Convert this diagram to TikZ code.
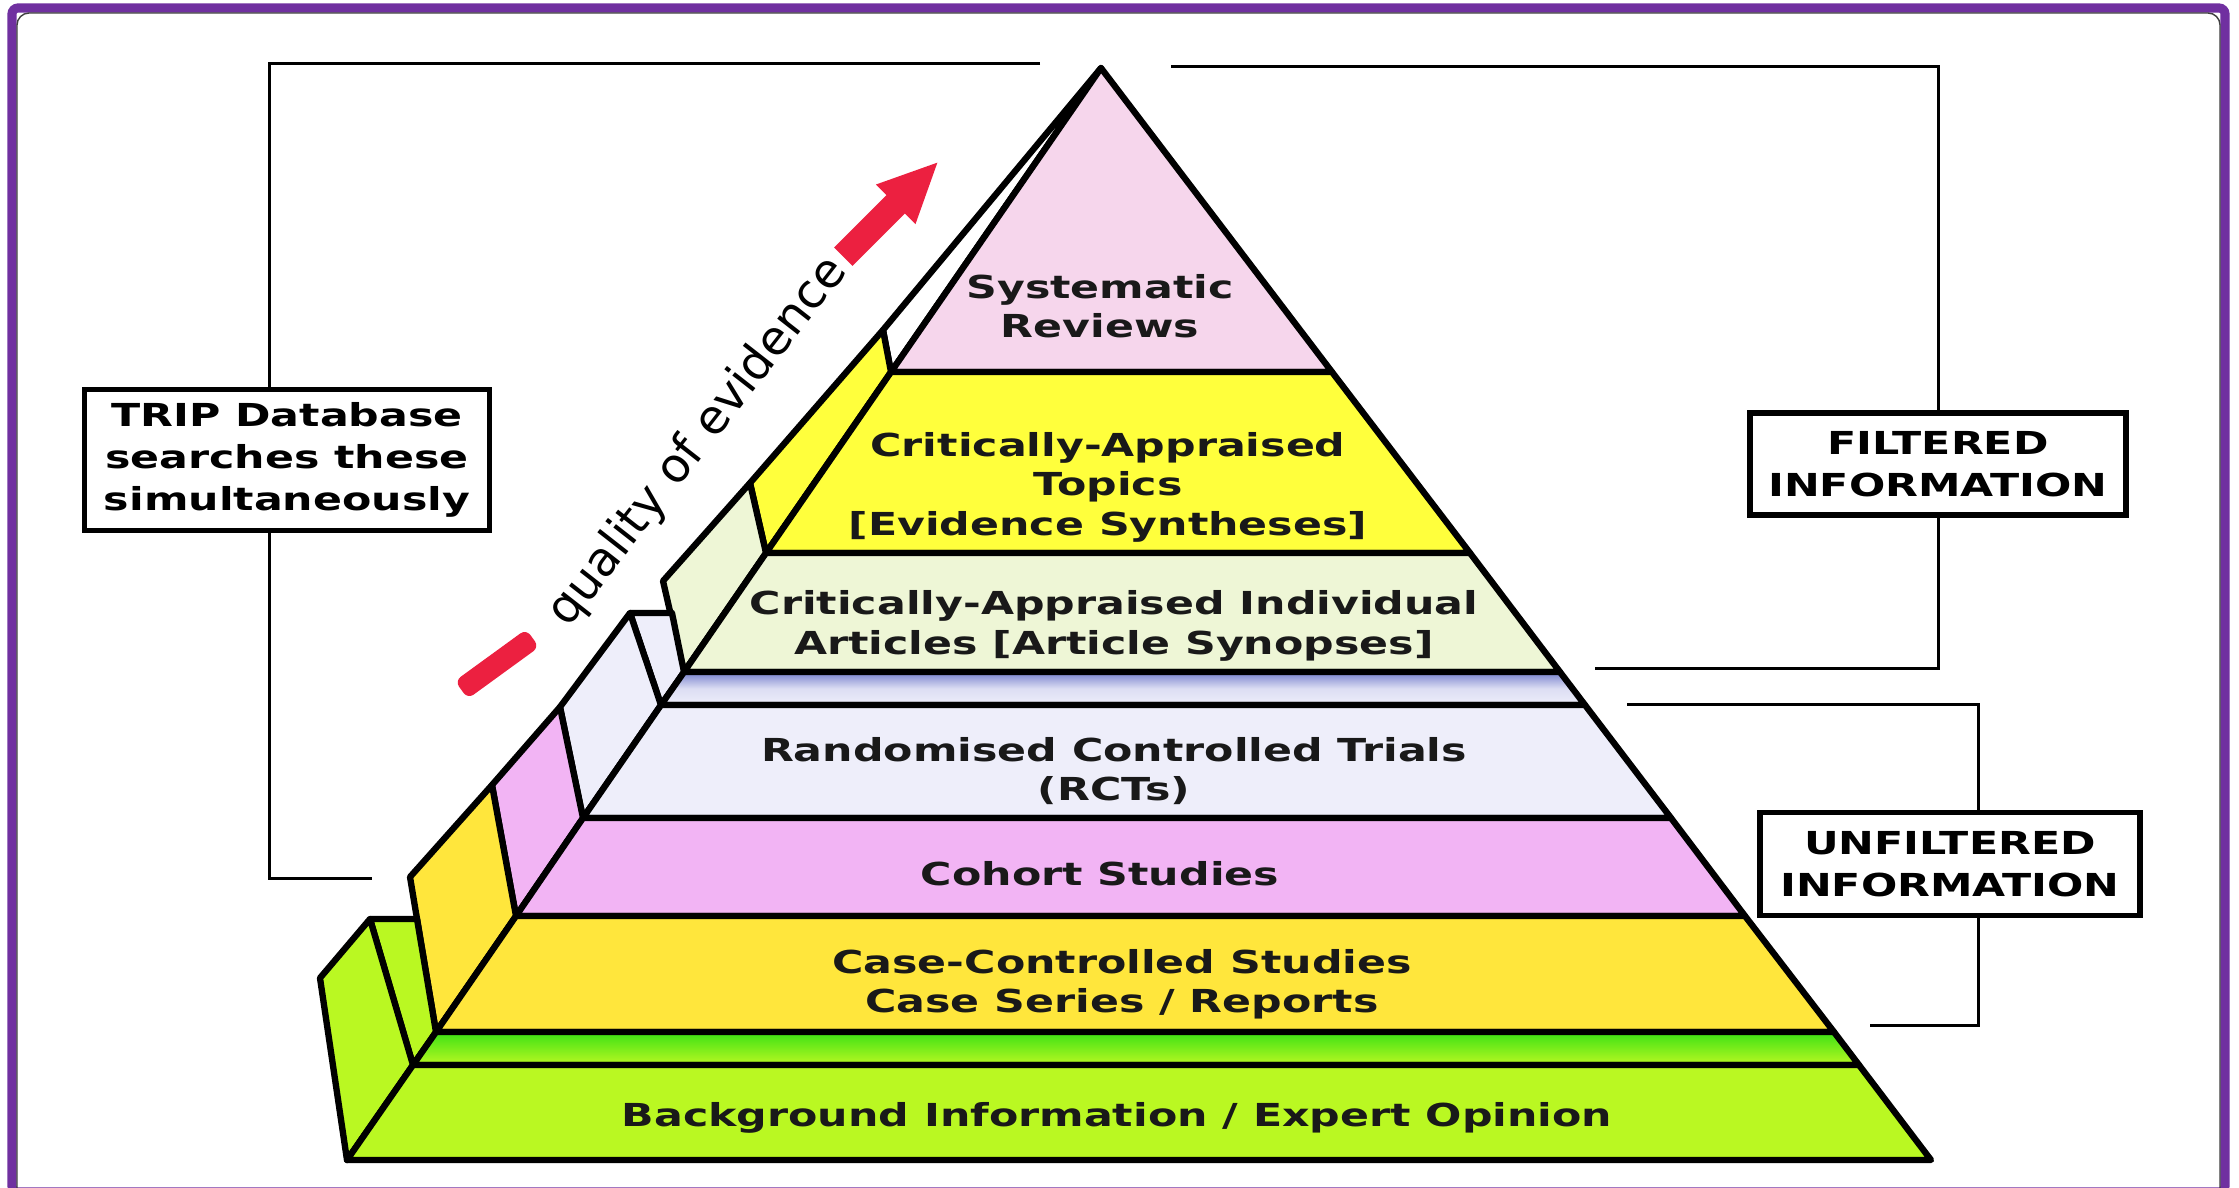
\documentclass[tikz,border=0pt]{standalone}
\usepackage{fontspec}
\setmainfont{DejaVu Sans}
\newfontfamily\widefont{DejaVu Sans}[FakeStretch=1.35]

\definecolor{framepurple}{RGB}{112,48,160}
\definecolor{sysPink}{RGB}{246,214,236}
\definecolor{catYellow}{RGB}{255,255,60}
\definecolor{caiGreen}{RGB}{238,246,214}
\definecolor{rctLav}{RGB}{238,238,250}
\definecolor{cohortPink}{RGB}{242,180,244}
\definecolor{caseYellow}{RGB}{255,230,60}
\definecolor{bgLime}{RGB}{186,248,34}
\definecolor{bandGreen}{RGB}{60,225,20}
\definecolor{bandBlue}{RGB}{120,130,205}
\definecolor{qRed}{RGB}{236,32,64}

\begin{document}
\begin{tikzpicture}[x=0.01cm, y=-0.01cm,
	layer/.style={draw=black, line width=1.8pt, line join=round},
	bracket/.style={draw=black, line width=0.85pt},
	infobox/.style={draw=black, line width=1.5pt, fill=white, align=center, inner sep=0pt,
		font=\widefont\bfseries\fontsize{9}{12}\selectfont},
	level/.style={align=center, text=black!90, font=\widefont\bfseries\fontsize{9}{11.2}\selectfont}]

	\useasboundingbox (0,0) rectangle (2239,1187) ;
	\fill[white] (0,0) rectangle (2239,1187) ;
	\draw[framepurple, line width=2.6pt, rounded corners=0.06cm] (12,8) rectangle (2225,1192) ;
	\draw[black!75, line width=0.4pt, rounded corners=0.12cm] (17,13) rectangle (2220,1200) ;

	\coordinate (tripTop) at (1040,63) ;
	\coordinate (tripBot) at (372,878) ;
	\coordinate (filtTop) at (1171,66) ;
	\coordinate (filtBot) at (1595,668) ;
	\coordinate (unfiltTop) at (1627,704) ;
	\coordinate (unfiltBot) at (1870,1025) ;

	\node[infobox, minimum width=4.05cm, minimum height=1.41cm] (trip) at (287,460) {TRIP Database\\searches these\\simultaneously};
	\node[infobox, minimum width=3.76cm, minimum height=1.02cm] (filt) at (1938,464) {FILTERED\\INFORMATION};
	\node[infobox, minimum width=3.8cm, minimum height=1.03cm] (unfilt) at (1950,864) {UNFILTERED\\INFORMATION};

	\draw[bracket] (tripTop) -| ([xshift=-0.17cm]trip.north) ;
	\draw[bracket] ([xshift=-0.17cm]trip.south) |- (tripBot) ;
	\draw[bracket] (filtTop) -| (filt.north) ;
	\draw[bracket] (filt.south) |- (filtBot) ;
	\draw[bracket] (unfiltTop) -| ([xshift=0.28cm]unfilt.north) ;
	\draw[bracket] ([xshift=0.28cm]unfilt.south) |- (unfiltBot) ;

	\draw[layer, fill=white] (1101,68) -- (883,330) -- (891,372) -- cycle ;
	\draw[layer, fill=catYellow] (883,330) -- (750,483) -- (766,553) -- (891,372) -- cycle ;
	\draw[layer, fill=caiGreen] (750,483) -- (663,581) -- (684,672) -- (766,553) -- cycle ;
	\draw[layer, fill=rctLav] (630,613) -- (672,613) -- (684,672) -- (661,705) -- cycle ;
	\draw[layer, fill=rctLav] (630,613) -- (560,707) -- (583,818) -- (661,705) -- cycle ;
	\draw[layer, fill=cohortPink] (560,707) -- (492,785) -- (516,916) -- (583,818) -- cycle ;
	\draw[layer, fill=caseYellow] (492,785) -- (410,877) -- (436,1032) -- (516,916) -- cycle ;
	\draw[layer, fill=bgLime] (370,919) -- (417,919) -- (436,1032) -- (413,1065) -- cycle ;
	\draw[layer, fill=bgLime] (370,919) -- (320,978) -- (347,1160) -- (413,1065) -- cycle ;

	\draw[layer, fill=sysPink] (1101,68) -- (1332,372) -- (891,372) -- cycle ;
	\draw[layer, fill=catYellow] (891,372) -- (1332,372) -- (1470,553) -- (766,553) -- cycle ;
	\draw[layer, fill=caiGreen] (766,553) -- (1470,553) -- (1560,672) -- (684,672) -- cycle ;
	\draw[layer, top color=bandBlue, bottom color=rctLav, middle color=rctLav!85!bandBlue] (684,672) -- (1560,672) -- (1585,705) -- (661,705) -- cycle ;
	\draw[layer, fill=rctLav] (661,705) -- (1585,705) -- (1671,818) -- (583,818) -- cycle ;
	\draw[layer, fill=cohortPink] (583,818) -- (1671,818) -- (1745,916) -- (516,916) -- cycle ;
	\draw[layer, fill=caseYellow] (516,916) -- (1745,916) -- (1834,1032) -- (436,1032) -- cycle ;
	\draw[layer, top color=bandGreen, bottom color=bgLime] (436,1032) -- (1834,1032) -- (1859,1065) -- (413,1065) -- cycle ;
	\draw[layer, fill=bgLime] (413,1065) -- (1859,1065) -- (1931,1160) -- (347,1160) -- cycle ;

	\node[level] (sys) at (1100,306) {Systematic\\Reviews};
	\node[level] (cat) at (1108,487) {Critically-Appraised\\Topics\\{[Evidence Syntheses]}};
	\node[level] (cai) at (1114,626) {Critically-Appraised Individual\\Articles {[Article Synopses]}};
	\node[level] (rct) at (1114,771) {Randomised Controlled Trials\\(RCTs)};
	\node[level] (cohort) at (1100,874) {Cohort Studies};
	\node[level] (case) at (1122,984) {Case-Controlled Studies\\Case Series / Reports};
	\node[level] (bg) at (1117,1118) {Background Information / Expert Opinion};

	\node[fill=qRed, rounded corners=2pt, minimum width=0.88cm, minimum height=0.22cm, inner sep=0pt, rotate=36] (qdash) at (497,664) {};
	\node[rotate=52, inner sep=0pt, font=\fontsize{13.5}{16}\selectfont] (quality) at (698,442) {quality of evidence};
	\begin{scope}[shift={(890,210)}, rotate=45]
		\fill[qRed] (-66,-13) -- (8,-13) -- (8,-28) -- (67,0) -- (8,28) -- (8,13) -- (-66,13) -- cycle ;
	\end{scope}
\end{tikzpicture}
\end{document}
